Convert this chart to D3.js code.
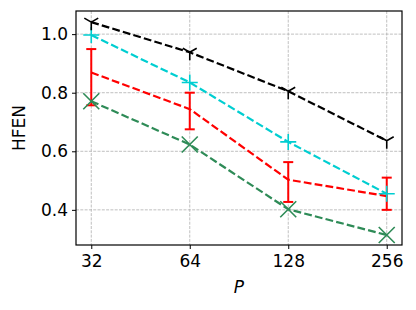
<!DOCTYPE html>
<html><head><meta charset="utf-8">
<script src="https://cdn.jsdelivr.net/npm/d3@7"></script>
<style>body{margin:0;background:#fff}svg text{font-family:"DejaVu Sans",sans-serif}</style>
</head><body>
<svg id="c" width="416" height="310"></svg>
<script>
const P = [32, 64, 128, 256];
const yTicks = [0.4, 0.6, 0.8, 1.0];
const blackVals = [1.041, 0.938, 0.805, 0.636];
const cyanVals = [0.997, 0.835, 0.632, 0.455];
const redVals = [0.869, 0.744, 0.503, 0.447];
const redLow = [0.757, 0.675, 0.427, 0.40];
const redHigh = [0.949, 0.80, 0.563, 0.51];
const greenVals = [0.771, 0.623, 0.402, 0.314];

const svg = d3.select("#c");
const L = 76, R = 402, T = 11, B = 245;
const x = d3.scaleLog().base(2).domain([32 / Math.pow(2, 0.155), 256 * Math.pow(2, 0.155)]).range([L, R]);
const y = d3.scaleLinear().domain([0.28, 1.079]).range([B, T]);

// grid
const g = svg.append("g");
g.selectAll(".gx").data(P).enter().append("line")
  .attr("x1", d => x(d)).attr("x2", d => x(d)).attr("y1", T).attr("y2", B)
  .attr("stroke", "#b0b0b0").attr("stroke-width", 0.8).attr("stroke-dasharray", "3,1.3");
g.selectAll(".gy").data(yTicks).enter().append("line")
  .attr("y1", d => y(d)).attr("y2", d => y(d)).attr("x1", L).attr("x2", R)
  .attr("stroke", "#b0b0b0").attr("stroke-width", 0.8).attr("stroke-dasharray", "3,1.3");

// axes
const xa = svg.append("g").attr("transform", `translate(0,${B})`)
  .call(d3.axisBottom(x).tickValues(P).tickFormat(d3.format("d")).tickSize(4).tickPadding(4));
const ya = svg.append("g").attr("transform", `translate(${L},0)`)
  .call(d3.axisLeft(y).tickValues(yTicks).tickFormat(d3.format(".1f")).tickSize(4).tickPadding(4));
[xa, ya].forEach(a => {
  a.select(".domain").remove();
  a.selectAll("text").attr("font-size", 17).attr("fill", "#000").style("font-family", "DejaVu Sans");
  a.selectAll("line").attr("stroke", "#000").attr("stroke-width", 1);
});
xa.selectAll("text").attr("dy", "0.85em");

const line = d3.line().x((d, i) => x(P[i])).y(d => y(d));
function series(vals, color) {
  svg.append("path").datum(vals).attr("d", line).attr("fill", "none")
    .attr("stroke", color).attr("stroke-width", 2.2).attr("stroke-dasharray", "7.8,3.2");
}

// error bars (red)
const eb = svg.append("g");
P.forEach((p, i) => {
  eb.append("line").attr("x1", x(p)).attr("x2", x(p)).attr("y1", y(redLow[i])).attr("y2", y(redHigh[i]))
    .attr("stroke", "red").attr("stroke-width", 2);
  [redLow[i], redHigh[i]].forEach(v => eb.append("line").attr("x1", x(p) - 5).attr("x2", x(p) + 5)
    .attr("y1", y(v)).attr("y2", y(v)).attr("stroke", "red").attr("stroke-width", 2));
});

series(greenVals, "#2e8b57");
series(redVals, "red");
series(cyanVals, "#00ced1");
series(blackVals, "#000");

// markers
svg.append("g").selectAll("path").data(greenVals).enter().append("path")
  .attr("d", (d, i) => { const cx = x(P[i]), cy = y(d), s = 8; return `M${cx-s},${cy-s}L${cx+s},${cy+s}M${cx-s},${cy+s}L${cx+s},${cy-s}`; })
  .attr("stroke", "#2e8b57").attr("stroke-width", 1.6).attr("fill", "none");
svg.append("g").selectAll("path").data(cyanVals).enter().append("path")
  .attr("d", (d, i) => { const cx = x(P[i]), cy = y(d), s = 8; return `M${cx-s},${cy}L${cx+s},${cy}M${cx},${cy-s}L${cx},${cy+s}`; })
  .attr("stroke", "#00ced1").attr("stroke-width", 1.6).attr("fill", "none");
svg.append("g").selectAll("path").data(blackVals).enter().append("path")
  .attr("d", (d, i) => { const cx = x(P[i]), cy = y(d), s = 8; return `M${cx},${cy}L${cx},${cy+s}M${cx},${cy}L${cx-s*0.87},${cy-s*0.5}M${cx},${cy}L${cx+s*0.87},${cy-s*0.5}`; })
  .attr("stroke", "#000").attr("stroke-width", 1.6).attr("fill", "none");

// frame
svg.append("rect").attr("x", L).attr("y", T).attr("width", R - L).attr("height", B - T)
  .attr("fill", "none").attr("stroke", "#000").attr("stroke-width", 1.2);

svg.append("text").attr("transform", `translate(25,${(T + B) / 2}) rotate(-90)`)
  .attr("text-anchor", "middle").attr("font-size", 17).text("HFEN");
svg.append("text").attr("x", (L + R) / 2).attr("y", 293).attr("text-anchor", "middle")
  .attr("font-size", 17).attr("font-style", "italic").text("P");
</script>
</body></html>
